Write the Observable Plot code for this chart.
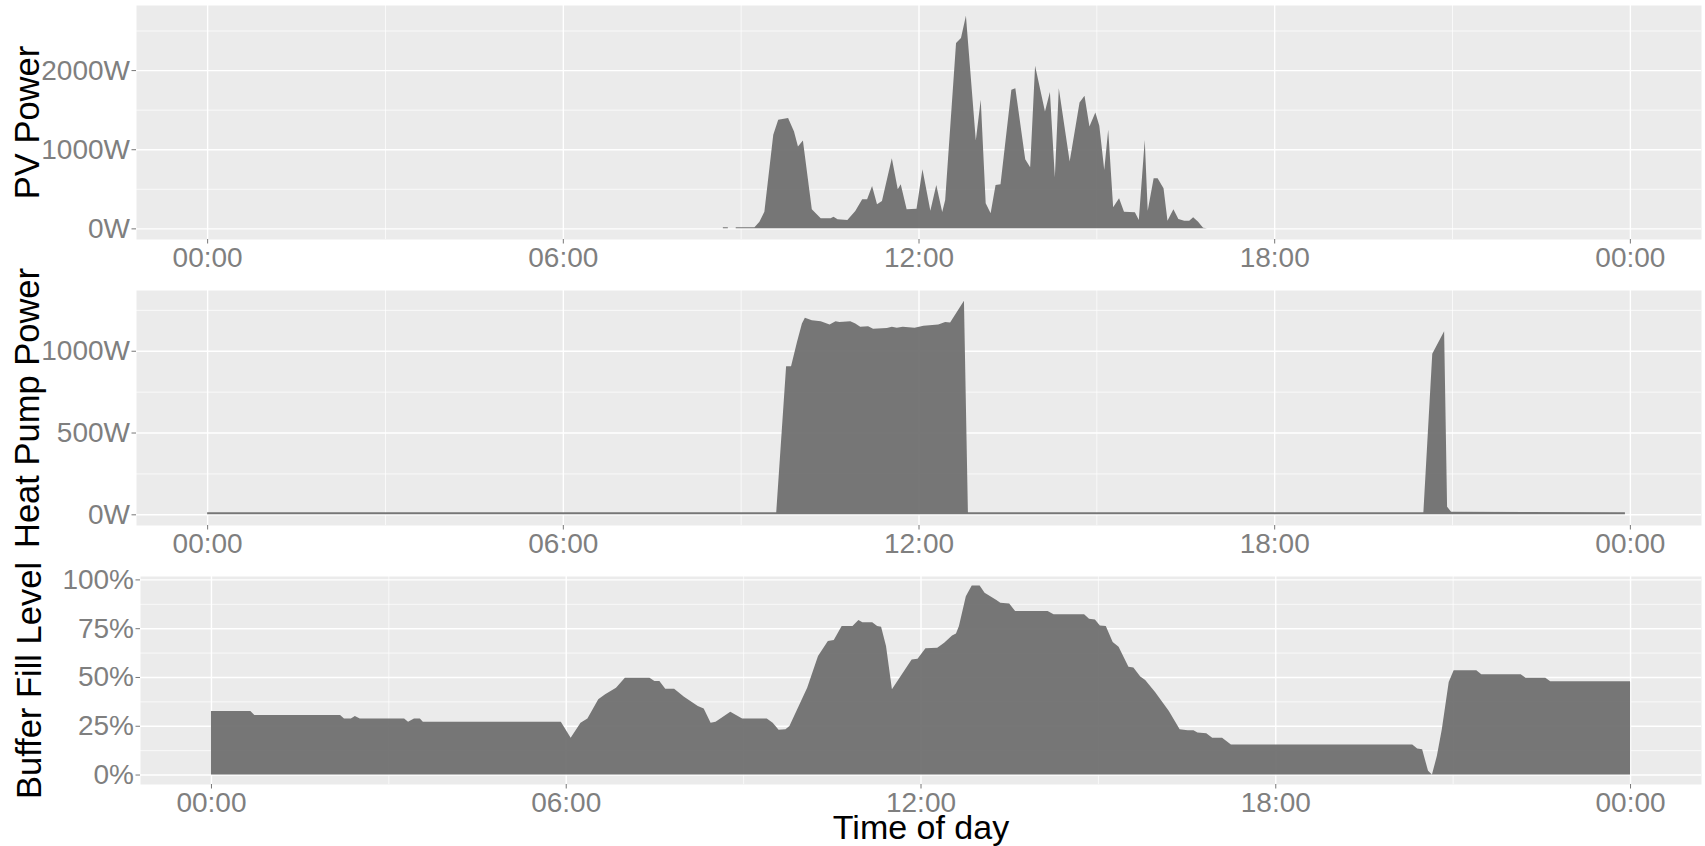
<!DOCTYPE html>
<html>
<head>
<meta charset="utf-8">
<script src="https://cdn.jsdelivr.net/npm/d3@7"></script>
<script src="https://cdn.jsdelivr.net/npm/@observablehq/plot@0.6"></script>
<style>
html, body { margin: 0; padding: 0; background: #ffffff; overflow: hidden; }
#chart svg { display: block; }
</style>
</head>
<body>
<div id="chart"></div>
<script>
// ---- titles & ticks ----
const axisTitles = ["PV Power", "Heat Pump Power", "Buffer Fill Level"];
const xTitle = "Time of day";
const hourTicks = [0, 6, 12, 18, 24];
const hourMinor = [3, 9, 15, 21];
const pvTicks = [0, 1000, 2000];
const pvMinor = [500, 1500, 2500];
const hpTicks = [0, 500, 1000];
const hpMinor = [250, 750, 1250];
const bufTicks = [0, 25, 50, 75, 100];
const bufMinor = [12.5, 37.5, 62.5, 87.5];

// ---- PV power (W) ----
const pvTime = ["08:42","08:47","08:51","08:55","09:14","09:19","09:24","09:33","09:38","09:48","09:54","09:58","10:03","10:12","10:21","10:31","10:34","10:38","10:48","10:56","11:03","11:08","11:13","11:18","11:23","11:33","11:39","11:42","11:48","11:58","12:04","12:12","12:18","12:24","12:27","12:38","12:43","12:48","12:58","13:03","13:08","13:13","13:18","13:23","13:34","13:38","13:48","13:53","13:58","14:08","14:13","14:18","14:22","14:33","14:43","14:48","14:53","14:59","15:03","15:08","15:12","15:17","15:23","15:28","15:39","15:43","15:49","15:52","15:58","16:02","16:08","16:12","16:18","16:23","16:29","16:34","16:38","16:43","16:48","16:52"];
const pvWatt = [15,15,null,15,15,84,211,1182,1372,1393,1224,1034,1110,241,127,127,148,114,106,219,367,367,536,304,346,886,494,557,241,249,747,224,549,207,359,2342,2405,2688,1110,1625,317,190,549,557,1751,1772,874,772,2055,1477,1722,646,1772,844,1591,1675,1287,1464,1296,739,1245,266,380,211,203,106,1118,224,633,633,506,97,241,118,97,97,139,84,8,0];

// ---- Heat pump power (W) ----
const hpTime = ["00:00","09:36","09:46","09:51","09:57","10:02","10:05","10:12","10:21","10:30","10:36","10:40","10:51","10:56","11:01","11:09","11:14","11:28","11:33","11:38","11:44","11:56","12:05","12:20","12:27","12:32","12:46","12:50","20:31","20:40","20:52","20:55","20:59","23:55"];
const hpWatt = [12,12,905,905,1053,1166,1201,1187,1180,1160,1180,1176,1180,1166,1146,1150,1135,1139,1146,1141,1146,1141,1152,1160,1176,1172,1306,12,12,981,1119,47,16,12];

// ---- Buffer fill level (%) ----
const bufTime = ["00:00","00:40","00:44","02:11","02:15","02:22","02:26","02:31","03:16","03:20","03:26","03:32","03:35","05:55","06:05","06:15","06:22","06:33","06:40","06:51","07:00","07:25","07:30","07:35","07:41","07:50","08:00","08:14","08:20","08:27","08:32","08:47","08:59","09:24","09:30","09:36","09:43","09:47","10:05","10:16","10:26","10:32","10:40","10:51","10:57","11:01","11:11","11:16","11:20","11:25","11:31","11:51","11:57","12:05","12:17","12:24","12:32","12:36","12:39","12:46","12:52","13:00","13:05","13:17","13:21","13:30","13:36","14:09","14:15","14:46","14:51","14:57","15:02","15:08","15:15","15:21","15:31","15:36","15:43","15:48","15:58","16:12","16:23","16:31","16:37","16:41","16:50","16:56","17:06","17:15","20:19","20:24","20:29","20:35","20:39","20:44","20:49","20:56","21:01","21:24","21:29","22:09","22:14","22:34","22:39","24:00"];
const bufPct = [32.6,32.6,30.5,30.5,28.7,28.7,30.0,28.7,28.7,27.0,28.7,28.7,27.0,27.0,18.9,26.6,28.7,38.6,41.1,44.5,49.6,49.6,47.9,47.9,44.0,44.0,39.9,35.1,33.9,26.6,27.0,32.2,28.7,28.7,26.6,22.9,23.2,24.9,44.5,60.7,68.4,68.9,76.1,76.1,79.2,78.1,78.1,76.1,75.7,65.9,43.7,59.0,59.4,64.7,65.0,67.6,71.3,72.3,76.1,91.4,96.9,96.9,93.1,89.4,88.0,87.7,83.8,83.8,82.1,82.1,79.8,79.5,76.4,76.1,67.9,65.5,55.3,54.8,50.2,48.4,42.3,32.6,23.2,22.7,22.7,21.5,21.2,18.9,18.9,15.4,15.4,13.3,13.0,1.9,0,9.6,23.2,47.4,53.4,53.4,51.4,51.4,49.6,49.6,47.8,47.8];

// ---- helpers ----
const base = Date.UTC(2000, 0, 1);
const hourDate = h => new Date(base + h * 3600e3);
const parseT = s => { const [h, m] = s.split(":").map(Number); return hourDate(h + m / 60); };

const PANEL = "#EBEBEB";
const AREA = "#6d6d6d";
const TICKTEXT = "#7f7f7f";
const TICK = "#777777";
const FONT = "'Liberation Sans', Arial, Helvetica, sans-serif";

function panel({times, values, title, ticks, minor, fmt, height, marginLeft, marginTop, marginBottom, titleDx, xLabel}) {
  const data = times.map((t, i) => ({t: parseT(t), v: values[i]}));
  const max = d3.max(values);
  const marks = [
    Plot.frame({fill: PANEL, stroke: "none"}),
    Plot.gridX(hourMinor.map(hourDate), {stroke: "white", strokeOpacity: 1, strokeWidth: 0.7}),
    Plot.gridY(minor, {stroke: "white", strokeOpacity: 1, strokeWidth: 0.7}),
    Plot.gridX(hourTicks.map(hourDate), {stroke: "white", strokeOpacity: 1, strokeWidth: 1.4}),
    Plot.gridY(ticks, {stroke: "white", strokeOpacity: 1, strokeWidth: 1.4}),
    Plot.areaY(data, {x: "t", y1: 0, y2: "v", fill: AREA, fillOpacity: 0.93, curve: "linear"}),
    Plot.axisX({ticks: hourTicks.map(hourDate), tickFormat: d3.utcFormat("%H:%M"), label: null,
      tickSize: 4.5, tickPadding: 3, fill: TICKTEXT, stroke: TICK}),
    Plot.axisY({ticks: ticks, tickFormat: fmt, label: null,
      tickSize: 4.5, tickPadding: 2, fill: TICKTEXT, stroke: TICK}),
    Plot.text([title], {text: d => d, frameAnchor: "left", rotate: -90, dx: titleDx,
      lineAnchor: "bottom", textAnchor: "middle", fontSize: 34.5, fill: "black"})
  ];
  if (xLabel) {
    marks.push(Plot.text([xLabel], {text: d => d, frameAnchor: "bottom", dy: 54,
      lineAnchor: "bottom", textAnchor: "middle", fontSize: 34, fill: "black"}));
  }
  return Plot.plot({
    width: 1705,
    height,
    marginLeft,
    marginRight: 4,
    marginTop,
    marginBottom,
    x: {type: "utc", domain: [hourDate(-1.2), hourDate(25.2)], axis: null},
    y: {domain: [-0.05 * max, 1.05 * max], nice: false, axis: null},
    style: {fontFamily: FONT, fontSize: "28px", overflow: "visible", background: "transparent"},
    marks
  });
}

const chart = document.getElementById("chart");
chart.append(panel({times: pvTime, values: pvWatt, title: axisTitles[0], ticks: pvTicks, minor: pvMinor,
  fmt: d => d + "W", height: 280, marginLeft: 136, marginTop: 5, marginBottom: 41, titleDx: -98}));
chart.append(panel({times: hpTime, values: hpWatt, title: axisTitles[1], ticks: hpTicks, minor: hpMinor,
  fmt: d => d + "W", height: 286, marginLeft: 136, marginTop: 10, marginBottom: 41, titleDx: -98}));
chart.append(panel({times: bufTime, values: bufPct, title: axisTitles[2], ticks: bufTicks, minor: bufMinor,
  fmt: d => d + "%", height: 280, marginLeft: 140, marginTop: 10, marginBottom: 62, titleDx: -100, xLabel: xTitle}));
</script>
</body>
</html>
